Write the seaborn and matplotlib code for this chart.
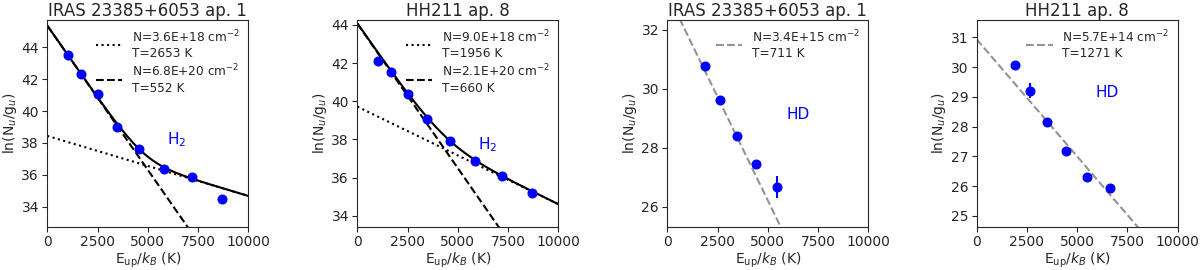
import numpy as np
import matplotlib
matplotlib.use("Agg")
import matplotlib.pyplot as plt
import seaborn as sns

sns.set_style("ticks")
plt.rcParams['font.family'] = ['DejaVu Sans']

# ---- data ----
titles = ["IRAS 23385+6053 ap. 1", "HH211 ap. 8", "IRAS 23385+6053 ap. 1", "HH211 ap. 8"]
species = ["H$_2$", "H$_2$", "HD", "HD"]

h2_energy = [1015, 1682, 2504, 3474, 4586, 5829, 7197, 8677]
h2_iras = [43.52, 42.33, 41.05, 38.98, 37.62, 36.36, 35.88, 34.48]
h2_hh211 = [42.13, 41.52, 40.37, 39.08, 37.94, 36.86, 36.09, 35.22]

hd_energy_iras = [1895, 2634, 3476, 4419, 5477]
hd_iras = [30.79, 29.62, 28.38, 27.45, 26.66]
hd_iras_err = [0.05, 0.12, 0.06, 0.10, 0.38]

hd_energy_hh211 = [1895, 2634, 3476, 4419, 5477, 6630]
hd_hh211 = [30.07, 29.21, 28.14, 27.19, 26.29, 25.95]
hd_hh211_err = [0.03, 0.25, 0.05, 0.05, 0.05, 0.05]

# fit components: intercept at E=0 and temperature, legend texts
h2_iras_fit = {"a": [38.44, 45.37], "T": [2653, 552],
               "N": ["3.6E+18", "6.8E+20"]}
h2_hh211_fit = {"a": [39.72, 44.07], "T": [1956, 660],
                "N": ["9.0E+18", "2.1E+20"]}
hd_iras_fit = {"a": 33.24, "T": 711, "N": "3.4E+15"}
hd_hh211_fit = {"a": 30.93, "T": 1271, "N": "5.7E+14"}

ylims = [(32.75, 45.72), (33.44, 44.26), (25.32, 32.34), (24.64, 31.58)]
label_pos = [(0.643, 0.419), (0.646, 0.396), (0.652, 0.543), (0.65, 0.65)]

fig = plt.figure(figsize=(12, 2.7), dpi=100)
lefts = [0.0394, 0.2978, 0.5561, 0.8139]
axes = [fig.add_axes([l, 0.161, 0.1675, 0.765]) for l in lefts]

xgrid = np.linspace(0, 10000, 400)

# ---- H2 panels ----
for ax, yvals, fit in [(axes[0], h2_iras, h2_iras_fit), (axes[1], h2_hh211, h2_hh211_fit)]:
    comps = [fit["a"][i] - xgrid / fit["T"][i] for i in range(2)]
    total = np.log(np.exp(comps[0]) + np.exp(comps[1]))
    sns.lineplot(x=xgrid, y=comps[0], ax=ax, color="k", linestyle=":", linewidth=1.5,
                 label="N=%s cm$^{-2}$\nT=%d K" % (fit["N"][0], fit["T"][0]))
    sns.lineplot(x=xgrid, y=comps[1], ax=ax, color="k", linestyle="--", linewidth=1.5,
                 label="N=%s cm$^{-2}$\nT=%d K" % (fit["N"][1], fit["T"][1]))
    sns.lineplot(x=xgrid, y=total, ax=ax, color="k", linewidth=1.5)
    ax.plot(h2_energy, yvals, "o", color="blue", markersize=6.2, zorder=5)

# ---- HD panels ----
for ax, xv, yv, ye, fit in [(axes[2], hd_energy_iras, hd_iras, hd_iras_err, hd_iras_fit),
                             (axes[3], hd_energy_hh211, hd_hh211, hd_hh211_err, hd_hh211_fit)]:
    line = fit["a"] - xgrid / fit["T"]
    sns.lineplot(x=xgrid, y=line, ax=ax, color="gray", linestyle="--", linewidth=1.5, alpha=0.85,
                 label="N=%s cm$^{-2}$\nT=%d K" % (fit["N"], fit["T"]))
    ax.errorbar(xv, yv, yerr=ye, fmt="o", color="blue", markersize=6.2,
                elinewidth=1.5, capsize=0, zorder=5)

for i, ax in enumerate(axes):
    ax.set_xlim(0, 10000)
    ax.set_ylim(*ylims[i])
    ax.set_xticks([0, 2500, 5000, 7500, 10000])
    ax.set_title(titles[i], fontsize=12, pad=3)
    ax.set_xlabel(r"E$_{\rm up}$/$k_B$ (K)", fontsize=10, labelpad=1)
    ax.set_ylabel(r"ln(N$_u$/g$_u$)", fontsize=10, labelpad=2)
    ax.tick_params(labelsize=10, pad=2.5)
    ax.text(label_pos[i][0], label_pos[i][1], species[i], color="blue", fontsize=11,
            ha="center", va="center", transform=ax.transAxes)
    ax.legend(loc="upper right", frameon=False, fontsize=8.7,
              labelspacing=0.25, borderaxespad=0.3, handlelength=2.2)
    for s in ax.spines.values():
        s.set_visible(True)

fig.savefig("out.png", dpi=100)
